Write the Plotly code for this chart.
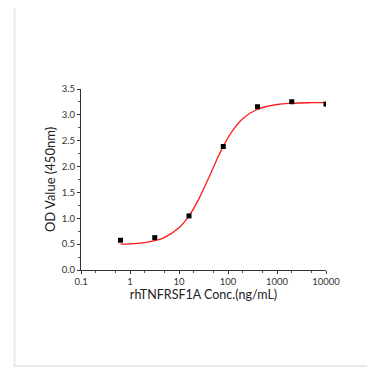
import plotly.graph_objects as go

# Measured data points
conc = [0.64, 3.2, 16, 80, 400, 2000, 10000]
od = [0.575, 0.626, 1.046, 2.388, 3.157, 3.254, 3.209]

# Fitted curve values
curve_x = [0.64, 1, 2, 3.2, 5, 10, 16, 25, 40, 60, 80, 120, 200, 400, 1000, 2000, 5000, 10000]
curve_y = [0.499, 0.506, 0.531, 0.567, 0.627, 0.815, 1.046, 1.361, 1.774, 2.148, 2.391,
           2.676, 2.926, 3.108, 3.200, 3.224, 3.235, 3.238]

x_ticks = [0.1, 1, 10, 100, 1000, 10000]
x_tick_labels = ["0.1", "1", "10", "100", "1000", "10000"]

x_title = "rhTNFRSF1A Conc.(ng/mL)"
y_title = "OD Value (450nm)"

FONT = "Lato, Open Sans, sans-serif"

fig = go.Figure()
fig.add_trace(go.Scatter(x=curve_x, y=curve_y, mode="lines",
                         line=dict(color="#ff1a1a", width=1.3, shape="spline"),
                         hoverinfo="skip", showlegend=False))
fig.add_trace(go.Scatter(x=conc, y=od, mode="markers",
                         marker=dict(symbol="square", size=5, color="black"),
                         showlegend=False))

fig.update_layout(
    width=375, height=370,
    margin=dict(l=73, r=57, t=81, b=108),
    paper_bgcolor="white", plot_bgcolor="white",
    font=dict(family=FONT, color="#333333"),
    shapes=[dict(type="rect", xref="paper", yref="paper",
                 x0=-0.271, x1=1.25, y0=-0.531, y1=1.4665,
                 line=dict(color="#e8e8e8", width=2), layer="below")],
)
fig.update_xaxes(
    type="log", range=[-1, 4],
    tickvals=x_ticks, ticktext=x_tick_labels,
    ticks="outside", ticklen=3, tickwidth=1, tickcolor="#333",
    minor=dict(ticks="outside", ticklen=2, tickcolor="#555", showgrid=False),
    showline=True, linecolor="#333", linewidth=1,
    showgrid=False, zeroline=False,
    tickfont=dict(size=9.5, color="#333"),
    title=dict(text=x_title, font=dict(size=12.5, color="#222"), standoff=2),
)
fig.update_yaxes(
    range=[0, 3.5], dtick=0.5, tick0=0, tickformat=".1f",
    ticks="outside", ticklen=3, tickwidth=1, tickcolor="#333",
    minor=dict(ticks="outside", ticklen=2, dtick=0.25, tickcolor="#555", showgrid=False),
    showline=True, linecolor="#333", linewidth=1,
    showgrid=False, zeroline=False,
    tickfont=dict(size=9.5, color="#333"),
    title=dict(text=y_title, font=dict(size=13, color="#222"), standoff=3),
)

fig.write_html("out.html")
